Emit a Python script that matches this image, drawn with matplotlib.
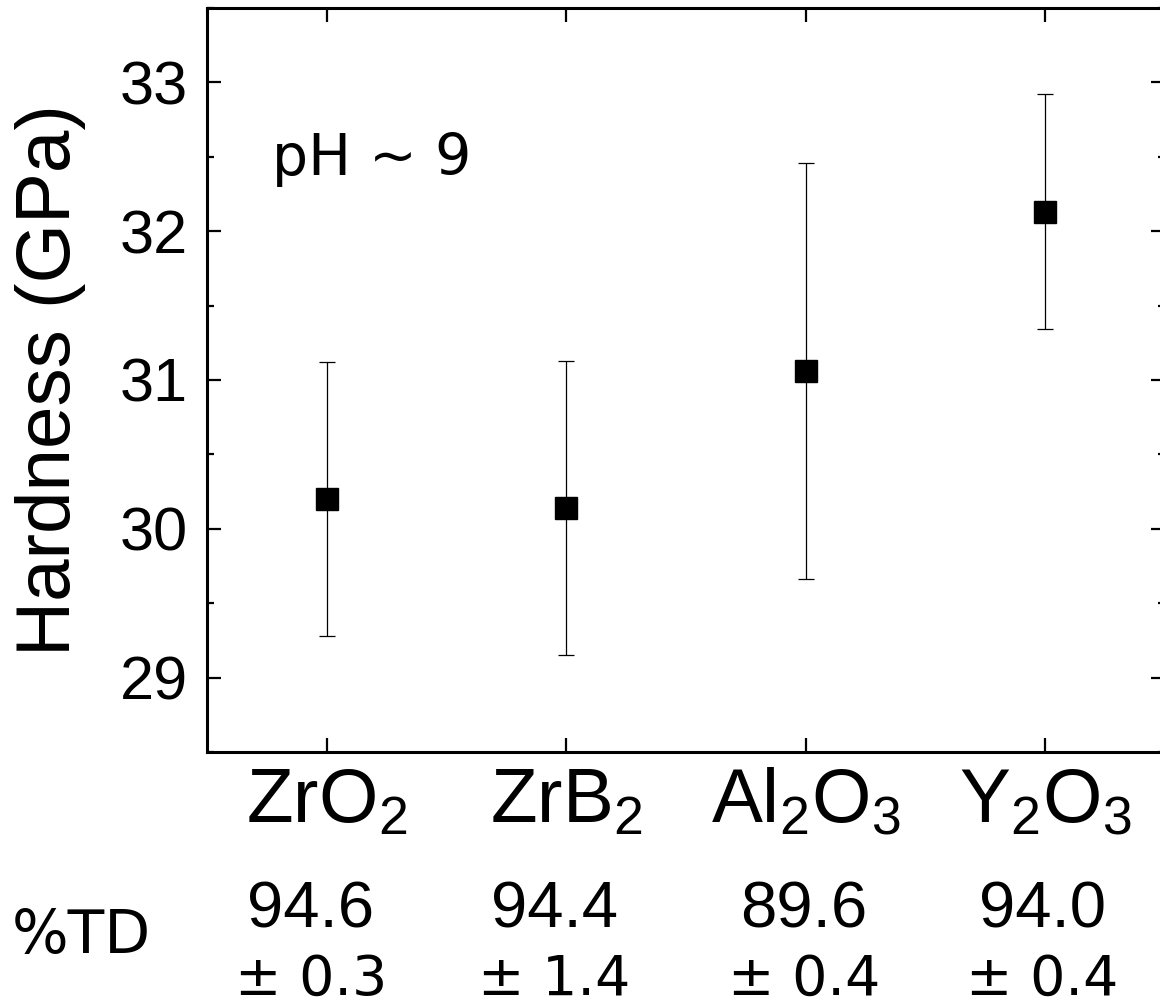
import matplotlib
matplotlib.use("Agg")
import matplotlib.pyplot as plt
import numpy as np
from matplotlib.ticker import MultipleLocator

plt.rcParams['font.family'] = ['Liberation Sans', 'DejaVu Sans']
plt.rcParams['mathtext.fontset'] = 'custom'
plt.rcParams['mathtext.rm'] = 'Liberation Sans'
plt.rcParams['mathtext.it'] = 'Liberation Sans:italic'

materials = [r'ZrO$_2$', r'ZrB$_2$', r'Al$_2$O$_3$', r'Y$_2$O$_3$']
hardness = [30.20, 30.14, 31.06, 32.13]
hardness_err = [0.92, 0.985, 1.40, 0.79]
td_mean = ['94.6', '94.4', '89.6', '94.0']
td_err = ['0.3', '1.4', '0.4', '0.4']

# horizontal centres (pixels) of the %TD columns under each label
td_cols = [311, 554, 804, 1042]

fig = plt.figure(figsize=(11.6, 10.06), dpi=100)
ax = fig.add_axes([207/1160, 254/1006, 958/1160, 744/1006])

x = np.arange(1, len(materials)+1)
ax.errorbar(x, hardness, yerr=hardness_err, fmt='s', color='black',
            markersize=15.5, elinewidth=0.9, capsize=6, capthick=0.9)

ax.set_xlim(0.5, 4.5)
ax.set_ylim(28.5, 33.5)
ax.set_xticks(x)
ax.set_xticklabels(materials, fontsize=55)
ax.yaxis.set_major_locator(MultipleLocator(1))
ax.yaxis.set_minor_locator(MultipleLocator(0.5))

for s in ax.spines.values():
    s.set_linewidth(2.2)
ax.tick_params(axis='both', which='major', direction='in', length=10, width=1.6,
               top=True, right=True)
ax.tick_params(axis='y', which='major', labelsize=44, pad=14)
ax.tick_params(axis='y', which='minor', direction='in', length=5, width=1.6, right=True)
ax.tick_params(axis='x', which='major', pad=11)

ax.set_ylabel('Hardness (GPa)', fontsize=55, labelpad=24)
ax.text(0.068, 0.796, 'pH ~ 9', transform=ax.transAxes, fontsize=41,
        family='DejaVu Sans', va='center', ha='left')

fig.text(81/1160, 0.0527, '%TD', fontsize=43, family='DejaVu Sans',
         ha='center', va='baseline')
for m, e, cx in zip(td_mean, td_err, td_cols):
    fig.text(cx/1160, 0.0785, m, fontsize=47, ha='center', va='baseline')
    fig.text(cx/1160, 0.011, '\u00b1 ' + e, fontsize=40, family='DejaVu Sans',
             ha='center', va='baseline')

fig.savefig('out.png', dpi=100)
